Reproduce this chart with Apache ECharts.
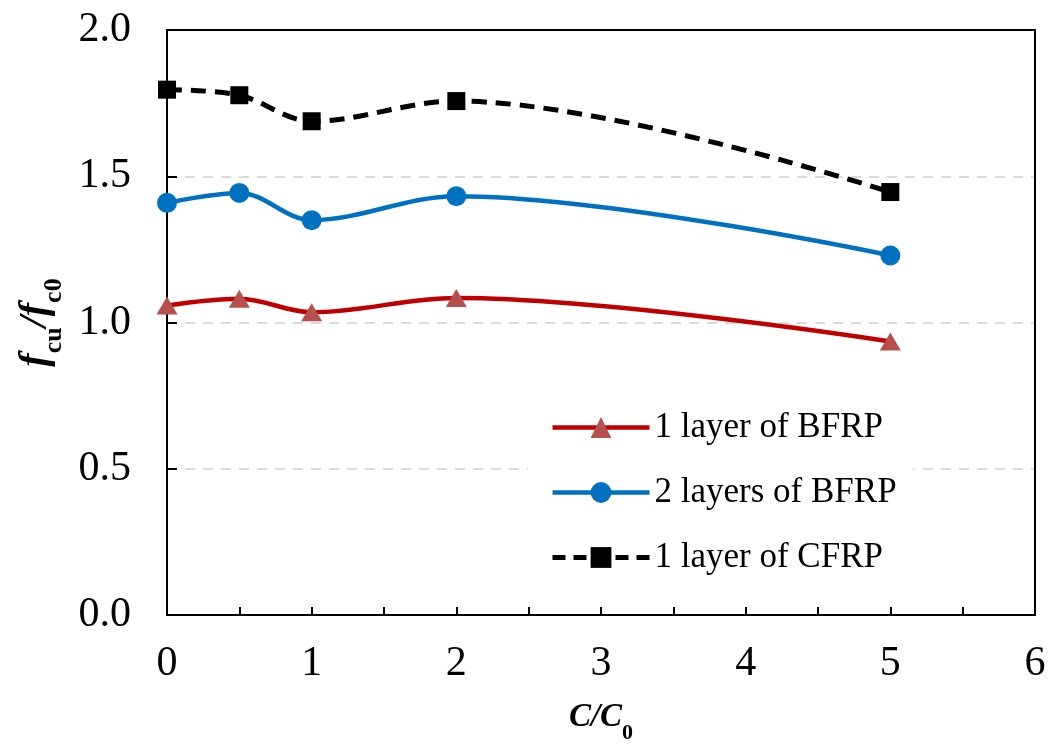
<!doctype html>
<html>
<head>
    <meta charset="utf-8">
    <title>fcu/fc0 vs C/C0</title>
    <style>
        html, body { margin: 0; padding: 0; background: #fff; }
        #chart { width: 1051px; height: 744px; }
    </style>
</head>
<body>
<div id="chart"></div>
<script src="https://cdn.jsdelivr.net/npm/echarts@6/dist/echarts.min.js"></script>
<script>
    // C/C0 values
    var ratios = [0, 0.5, 1, 2, 5];
    // fcu/fc0 for each specimen group
    var bfrp1 = [1.058, 1.081, 1.035, 1.084, 0.935];
    var bfrp2 = [1.409, 1.443, 1.350, 1.432, 1.229];
    var cfrp1 = [1.796, 1.777, 1.688, 1.757, 1.446];
    var names = ['1 layer of BFRP', '2 layers of BFRP', '1 layer of CFRP'];

    function pairs(ys) {
        return ratios.map(function (x, i) { return [x, ys[i]]; });
    }

    var serif = '"Liberation Serif", "DejaVu Serif", serif';
    var chart = echarts.init(document.getElementById('chart'));

    // plain axis used only for the top / right frame lines
    function frameAxis(pos) {
        return {
            type: 'value', position: pos, min: 0, max: pos === 'top' ? 6 : 2,
            axisLine: { show: true, onZero: false, lineStyle: { color: '#000', width: 2 } },
            axisTick: { show: false }, axisLabel: { show: false }, splitLine: { show: false }
        };
    }

    var option = {
        backgroundColor: '#fff',
        animation: false,
        grid: {
            left: 167, right: 16, top: 30, bottom: 129,
            outerBoundsMode: 'none'
        },
        legend: {
            orient: 'vertical',
            left: 528, top: 396,
            padding: [14, 16, 14, 22],
            backgroundColor: '#fff',
            itemWidth: 97, itemHeight: 26, itemGap: 30,
            textStyle: { fontFamily: serif, fontSize: 35, color: '#000' },
            data: [
                { name: names[0], lineStyle: { width: 4.5 } },
                { name: names[1], lineStyle: { width: 4.5 } },
                { name: names[2], lineStyle: { width: 5, type: [13, 8] } }
            ]
        },
        xAxis: [{
            type: 'value', min: 0, max: 6, interval: 1,
            name: '{i|C}{n|/}{i|C}{s|0}',
            nameLocation: 'middle', nameGap: 86,
            nameTextStyle: {
                fontFamily: serif,
                rich: {
                    i: { fontFamily: serif, fontSize: 33, fontStyle: 'italic', fontWeight: 'bold', color: '#000' },
                    n: { fontFamily: serif, fontSize: 33, fontStyle: 'italic', fontWeight: 'bold', color: '#000' },
                    s: { fontFamily: serif, fontSize: 22, fontWeight: 'bold', color: '#000', verticalAlign: 'bottom', padding: [0, 0, -10, 0] }
                }
            },
            axisLine: { lineStyle: { color: '#000', width: 2 } },
            axisTick: { inside: true, length: 8, lineStyle: { color: '#000', width: 2 } },
            minorTick: { show: true, splitNumber: 2, length: 8, lineStyle: { color: '#000', width: 2 } },
            axisLabel: { fontFamily: serif, fontSize: 42, color: '#000', margin: 28 },
            splitLine: { show: false }
        }, frameAxis('top')],
        yAxis: [{
            type: 'value', min: 0, max: 2, interval: 0.5,
            name: '{i|f}{s|cu}{n|/}{i|f}{s|c0}',
            nameLocation: 'middle', nameGap: 110, nameRotate: 90,
            nameTextStyle: {
                fontFamily: serif,
                rich: {
                    i: { fontFamily: serif, fontSize: 40, fontStyle: 'italic', fontWeight: 'bold', color: '#000' },
                    n: { fontFamily: serif, fontSize: 40, fontStyle: 'italic', fontWeight: 'bold', color: '#000' },
                    s: { fontFamily: serif, fontSize: 26, fontWeight: 'bold', color: '#000', verticalAlign: 'bottom', padding: [0, 0, -12, 0] }
                }
            },
            axisLine: { lineStyle: { color: '#000', width: 2 } },
            axisTick: { inside: true, length: 10, lineStyle: { color: '#000', width: 2 } },
            axisLabel: {
                fontFamily: serif, fontSize: 42, color: '#000', margin: 36,
                formatter: function (v) { return v.toFixed(1); }
            },
            splitLine: { show: true, lineStyle: { color: '#d0d0d0', width: 1.5, type: [10, 8] } }
        }, frameAxis('right')],
        series: [
            {
                name: names[0], type: 'line', data: pairs(bfrp1), smooth: 0.35,
                symbol: 'triangle', symbolSize: [21, 18],
                lineStyle: { color: '#C00000', width: 4.5 },
                itemStyle: { color: '#B5504C' },
                z: 3
            },
            {
                name: names[1], type: 'line', data: pairs(bfrp2), smooth: 0.35,
                symbol: 'circle', symbolSize: 20,
                lineStyle: { color: '#0070C0', width: 4.5 },
                itemStyle: { color: '#0070C0' },
                z: 3
            },
            {
                name: names[2], type: 'line', data: pairs(cfrp1), smooth: 0.35,
                symbol: 'rect', symbolSize: 18,
                lineStyle: { color: '#000', width: 5, type: [15, 9] },
                itemStyle: { color: '#000' },
                z: 3
            }
        ]
    };
    chart.setOption(option);
</script>
</body>
</html>
